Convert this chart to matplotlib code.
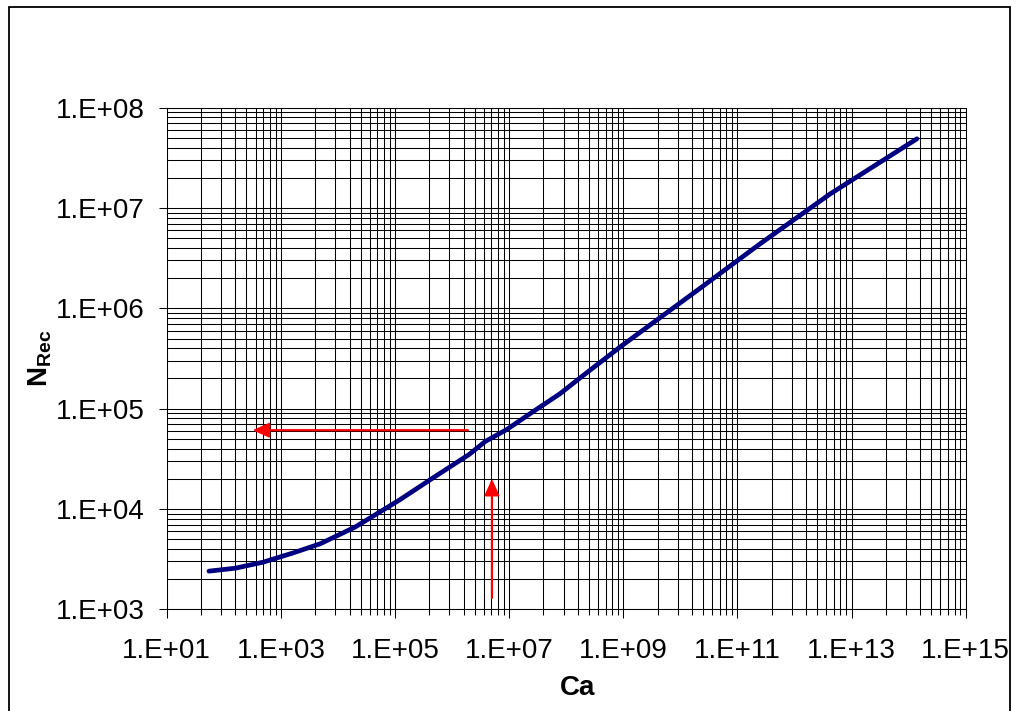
import numpy as np
import matplotlib
matplotlib.use("Agg")
import matplotlib.pyplot as plt
from matplotlib.patches import Rectangle
from matplotlib.ticker import FixedLocator, FuncFormatter, NullFormatter

plt.rcParams["font.family"] = ["Liberation Sans", "DejaVu Sans"]
plt.rcParams["mathtext.fontset"] = "custom"
plt.rcParams["mathtext.rm"] = "Liberation Sans"
plt.rcParams["mathtext.bf"] = "Liberation Sans:bold"

# Recording number versus capillary number
ca = [55, 160, 490, 1.6e3, 4.9e3, 2.0e4, 1.2e5, 5.0e5, 2.0e6, 3.8e6, 9.1e6,
      2.6e7, 7.8e7, 1.7e8, 8.7e8, 2.2e10, 2.5e11, 4.2e12, 1.4e14]
n_rec = [2400, 2570, 2950, 3630, 4500, 6600, 1.23e4, 2.1e4, 3.5e4, 4.7e4,
         6.2e4, 9.3e4, 1.41e5, 2.0e5, 4.1e5, 1.58e6, 4.4e6, 1.38e7, 4.9e7]

# Reading arrows
arrow_h_x = [1.9e6, 320]
arrow_h_y = [6.1e4, 6.1e4]
arrow_v_x = [5.0e6, 5.0e6]
arrow_v_y = [1.3e3, 2.0e4]

x_lim = [1e1, 1e15]
y_lim = [1e3, 1e8]
x_major = [10.0 ** e for e in range(1, 16, 2)]
x_minor = [10.0 ** e * k ** 2 for e in range(1, 15, 2) for k in range(2, 10)]
y_major = [10.0 ** e for e in range(3, 9)]
y_minor = [10.0 ** e * k for e in range(3, 8) for k in range(2, 10)]

W, H = 1016, 711
fig = plt.figure(figsize=(W / 100, H / 100), dpi=100)
fig.patch.set_facecolor("white")

ax = fig.add_axes([166.7 / W, 1 - 609.3 / H, (965.7 - 166.7) / W, (609.3 - 107.7) / H])
ax.set_xscale("log")
ax.set_yscale("log")
ax.set_xlim(x_lim)
ax.set_ylim(y_lim)

ax.xaxis.set_major_locator(FixedLocator(x_major))
ax.xaxis.set_minor_locator(FixedLocator(x_minor))
ax.yaxis.set_major_locator(FixedLocator(y_major))
ax.yaxis.set_minor_locator(FixedLocator(y_minor))

fmt = FuncFormatter(lambda v, p: "1.E+%02d" % int(round(np.log10(v))))
ax.xaxis.set_major_formatter(fmt)
ax.yaxis.set_major_formatter(fmt)
ax.xaxis.set_minor_formatter(NullFormatter())
ax.yaxis.set_minor_formatter(NullFormatter())

ax.grid(True, which="both", color="black", linewidth=0.75)
ax.set_axisbelow(True)

ax.tick_params(axis="x", which="major", direction="out", length=6.5, width=0.75,
               labelsize=20, pad=14)
ax.tick_params(axis="x", which="minor", direction="out", length=4.2, width=0.75)
ax.tick_params(axis="y", which="major", direction="out", length=6, width=0.75,
               labelsize=20, pad=10)
ax.tick_params(axis="y", which="minor", length=0)
for s in ax.spines.values():
    s.set_linewidth(0.75)
    s.set_color("black")

ax.plot(ca, n_rec, color="#000080", linewidth=3.4, solid_capstyle="round",
        solid_joinstyle="round", zorder=3)

arrow_style = dict(arrowstyle="-|>,head_length=1.0,head_width=0.45",
                   color="#ff0000", lw=1.6, shrinkA=0, shrinkB=0)
ax.annotate("", xy=(arrow_h_x[1], arrow_h_y[1]), xytext=(arrow_h_x[0], arrow_h_y[0]),
            arrowprops=arrow_style, zorder=4)
ax.annotate("", xy=(arrow_v_x[1], arrow_v_y[1]), xytext=(arrow_v_x[0], arrow_v_y[0]),
            arrowprops=arrow_style, zorder=4)

fig.text(578 / W, 1 - 688 / H, "Ca", fontsize=20, fontweight="bold",
         ha="center", va="center")
fig.text(40 / W, 1 - 358 / H, r"$\mathbf{N}_{\mathbf{Rec}}$", fontsize=20,
         rotation=90, ha="center", va="center")

# Chart frame
fig.patches.append(Rectangle((9 / W, -0.05), (1010 - 9) / W, 1.05 - 7.3 / H,
                             transform=fig.transFigure, fill=False,
                             edgecolor="black", linewidth=1.3))

fig.savefig("out.png", dpi=100)
